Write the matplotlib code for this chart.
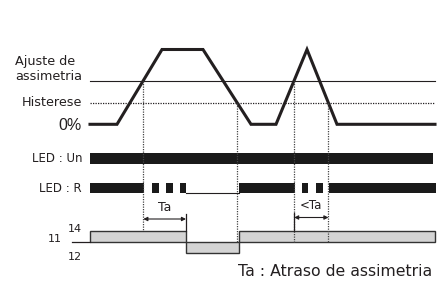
import numpy as np
import matplotlib.pyplot as plt
from matplotlib.patches import Rectangle

plt.rcParams['font.family'] = ['DejaVu Sans']

# signal: time points and level (% of full swing)
t_signal = [90, 117, 162, 203, 251, 276, 307, 337, 435]
level_signal = [0, 0, 100, 100, 0, 0, 100, 0, 0]
ajuste_level = 58.5
histerese_level = 28.5

# LED:R on / blink / off periods
led_r_on = [(90, 144), (239, 295), (329, 436)]
led_r_blinks = [(151.5, 158.5), (165.5, 172.5), (179.5, 186),
                (301.5, 308), (315.5, 322.5)]
led_r_off = [(186, 239)]
led_un = (90, 433)

# relay 11-14 / 11-12
relay_t = [90, 186, 239, 435]
relay_state = [1, -1, 1]

y0, y100 = 124.3, 49.5


def lvl(v):
    return y0 + (y100 - y0) * v / 100.0


def crossings(thr, rising):
    out = []
    for i in range(len(t_signal) - 1):
        a, b = level_signal[i], level_signal[i + 1]
        if rising and a < thr <= b or (not rising) and a > thr >= b:
            t = t_signal[i] + (thr - a) / (b - a) * (t_signal[i + 1] - t_signal[i])
            out.append(t)
    return out


fig = plt.figure(figsize=(4.37, 2.85), dpi=100)
ax = fig.add_axes([0, 0, 1, 1])
ax.set_xlim(0, 437)
ax.set_ylim(285, 0)
ax.axis('off')

dark = '#231f20'

# threshold lines
ax.plot([90, 435], [lvl(ajuste_level)] * 2, color=dark, lw=0.8)
ax.plot([90, 435], [lvl(histerese_level)] * 2, color=dark, lw=0.9, ls=(0, (1, 1)))

# signal
ax.plot(t_signal, [lvl(v) for v in level_signal], color=dark, lw=2.2,
        solid_joinstyle='miter')

# vertical dotted markers
on_t = crossings(ajuste_level, True)
off_t = crossings(histerese_level, False)
for i, t in enumerate(on_t):
    bottom = 231 if i == 0 else 243
    ax.plot([t, t], [lvl(ajuste_level), bottom], color='#444444', lw=0.9, ls=(0, (1, 1)))
for t in off_t:
    ax.plot([t, t], [lvl(histerese_level), 243], color='#444444', lw=0.9, ls=(0, (1, 1)))

# labels left
ax.text(15, 65.5, 'Ajuste de', fontsize=9.2, ha='left', va='baseline', color=dark)
ax.text(15, 80, 'assimetria', fontsize=9.2, ha='left', va='baseline', color=dark)
ax.text(82, 102.5, 'Histerese', fontsize=9.2, ha='right', va='center', color=dark)
ax.text(82, 125, '0%', fontsize=11.5, ha='right', va='center', color=dark,
        family='Liberation Sans')

# LEDs
ax.add_patch(Rectangle((led_un[0], 153.3), led_un[1] - led_un[0], 10.7,
                       color='#1a1a1a', lw=0))
ax.text(82, 158, 'LED : Un', fontsize=8.5, ha='right', va='center', color=dark)
ax.text(82, 188, 'LED : R', fontsize=8.5, ha='right', va='center', color=dark)
for a, b in led_r_on + led_r_blinks:
    ax.add_patch(Rectangle((a, 182.7), b - a, 10.6, color='#1a1a1a', lw=0))
for a, b in led_r_off:
    ax.plot([a, b], [193, 193], color=dark, lw=0.8)

# relay
base = 241.7
ax.plot([72, 90], [base, base], color=dark, lw=0.9)
for i, s in enumerate(relay_state):
    a, b = relay_t[i], relay_t[i + 1]
    h = 10.7 if s > 0 else 11
    y = base - h if s > 0 else base
    ax.add_patch(Rectangle((a, y), b - a, h, facecolor='#d4d4d4',
                           edgecolor='#333333', lw=1.0))
ax.text(74.5, 229, '14', fontsize=8, ha='center', va='center', color=dark)
ax.text(55, 239.5, '11', fontsize=8, ha='center', va='center', color=dark)
ax.text(75, 256.5, '12', fontsize=8, ha='center', va='center', color=dark)

# Ta arrow
ta_end = relay_t[1]
ax.plot([ta_end, ta_end], [214, 231], color=dark, lw=0.9)
ax.annotate('', xy=(on_t[0], 219), xytext=(ta_end, 219),
            arrowprops=dict(arrowstyle='<|-|>', color=dark, lw=0.8,
                            mutation_scale=6, shrinkA=0, shrinkB=0))
ax.text((on_t[0] + ta_end) / 2, 207.5, 'Ta', fontsize=9, ha='center',
        va='center', color=dark)

# <Ta arrow
ax.plot([on_t[1], on_t[1]], [213, 231], color=dark, lw=0.9)
ax.annotate('', xy=(on_t[1], 217.5), xytext=(off_t[1], 217.5),
            arrowprops=dict(arrowstyle='<|-|>', color=dark, lw=0.8,
                            mutation_scale=6, shrinkA=0, shrinkB=0))
ax.text((on_t[1] + off_t[1]) / 2, 205.5, '<Ta', fontsize=8.5, ha='center',
        va='center', color=dark)

ax.text(432, 272, 'Ta : Atraso de assimetria', fontsize=11.3, ha='right',
        va='center', color=dark)

fig.savefig('out.png', dpi=100)
